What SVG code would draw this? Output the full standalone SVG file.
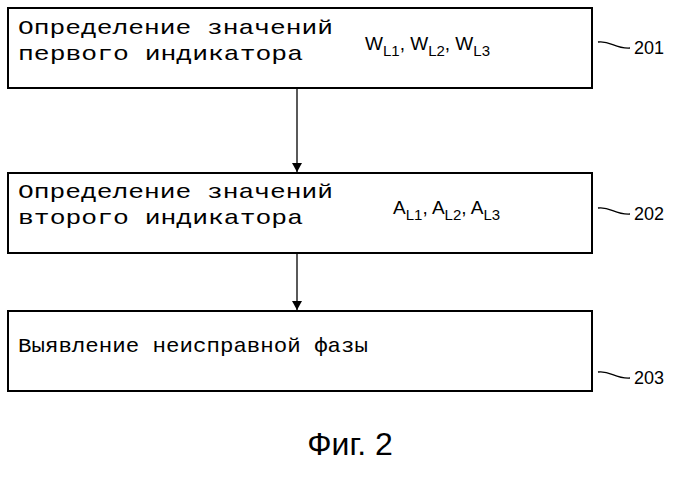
<svg xmlns="http://www.w3.org/2000/svg" width="699" height="480" viewBox="0 0 699 480">
<defs>
<style>
.box{fill:#fff;stroke:#000;stroke-width:2}
.t{font-family:"Liberation Mono",monospace;font-size:21px;fill:#000}
.s{font-family:"Liberation Sans",sans-serif;font-size:19px;fill:#000}
.sub{font-size:15px}
.ref{font-family:"Liberation Sans",sans-serif;font-size:18px;fill:#000}
.ln{fill:none;stroke:#000;stroke-width:1.3}
</style>
<marker id="ah" markerWidth="10" markerHeight="12" refX="9" refY="6" orient="auto" markerUnits="userSpaceOnUse">
<path d="M0,1 L9,6 L0,11 Z" fill="#000"/>
</marker>
</defs>
<rect width="699" height="480" fill="#fff"/>
<g id="n201">
<rect class="box" x="8" y="8" width="584" height="80"/>
<text class="t" x="18" y="34" textLength="315" lengthAdjust="spacingAndGlyphs">Определение значений</text>
<text class="t" x="18" y="60" textLength="285" lengthAdjust="spacingAndGlyphs">первого индикатора</text>
<text class="s" x="365" y="50">W<tspan class="sub" dy="6">L1</tspan><tspan dy="-6">, W</tspan><tspan class="sub" dy="6">L2</tspan><tspan dy="-6">, W</tspan><tspan class="sub" dy="6">L3</tspan></text>
<path class="ln" d="M598,42 C610,40 615,49 630,48"/>
<text class="ref" x="634" y="54">201</text>
</g>
<g id="n202">
<rect class="box" x="8" y="173" width="584" height="80"/>
<text class="t" x="18" y="198" textLength="315" lengthAdjust="spacingAndGlyphs">Определение значений</text>
<text class="t" x="18" y="224" textLength="285" lengthAdjust="spacingAndGlyphs">второго индикатора</text>
<text class="s" x="393" y="214">A<tspan class="sub" dy="6">L1</tspan><tspan dy="-6">, A</tspan><tspan class="sub" dy="6">L2</tspan><tspan dy="-6">, A</tspan><tspan class="sub" dy="6">L3</tspan></text>
<path class="ln" d="M598,208 C610,206 615,215 630,214"/>
<text class="ref" x="634" y="220">202</text>
</g>
<g id="n203">
<rect class="box" x="8" y="311" width="584" height="80"/>
<text class="t" x="18" y="352" textLength="350" lengthAdjust="spacingAndGlyphs">Выявление неисправной фазы</text>
<path class="ln" d="M598,372 C610,370 615,379 630,378"/>
<text class="ref" x="634" y="384">203</text>
</g>
<g id="connectors">
<line class="ln" x1="297" y1="88" x2="297" y2="172" marker-end="url(#ah)"/>
<line class="ln" x1="297" y1="253" x2="297" y2="310" marker-end="url(#ah)"/>
</g>
<text x="350" y="455" text-anchor="middle" font-family="Liberation Sans,sans-serif" font-size="32">Фиг. 2</text>
</svg>
